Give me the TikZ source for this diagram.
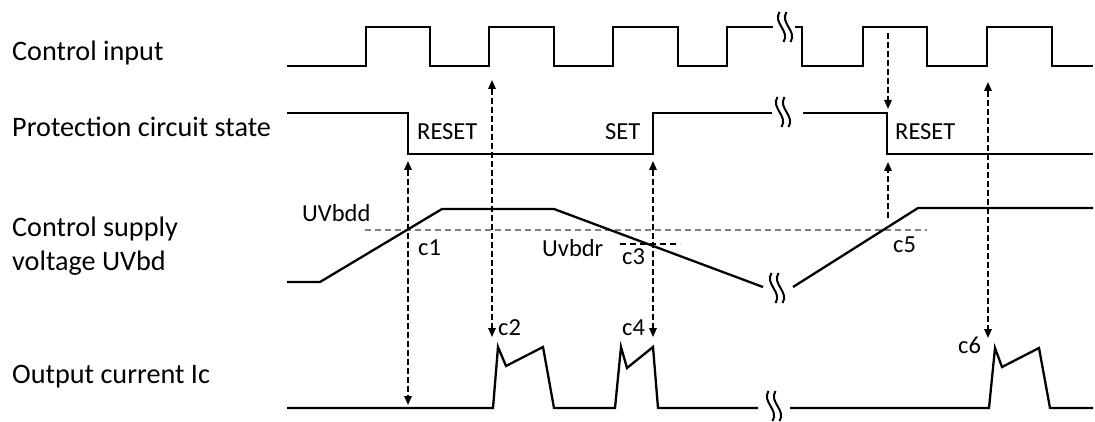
\documentclass[tikz,border=0pt]{standalone}
\usepackage{fontspec}
\setmainfont{Carlito}
\usetikzlibrary{arrows.meta}

% break mark: two wavy strokes
\newcommand{\brkmark}[2]{%
  \foreach \dx in {-3.5,3.5}{%
    \draw[brk] ({#1+\dx-2},{#2-15}) .. controls ({#1+\dx-9},{#2-4}) and ({#1+\dx+9},{#2+4}) .. ({#1+\dx+2},{#2+15});}}

\begin{document}
\begin{tikzpicture}[
    x=1pt, y=-1pt,
    wave/.style={line width=2.3pt, line join=miter},
    signame/.style={font=\fontsize{28.2}{34}\selectfont, anchor=base west, inner sep=0pt, align=left},
    tag/.style={font=\fontsize{24.5}{29}\selectfont, anchor=base west, inner sep=0pt},
    link/.style={dash pattern=on 6pt off 3pt, line width=1.6pt,
                 {Triangle[width=7.5pt,length=9pt]}-{Triangle[width=7.5pt,length=9pt]}},
    onelink/.style={dash pattern=on 6pt off 3pt, line width=1.6pt, -{Triangle[width=7.5pt,length=9pt]}},
    thresh/.style={dash pattern=on 6pt off 4pt, line width=1.5pt},
    brk/.style={line width=2pt}
]
    \useasboundingbox (0,0) rectangle (1095,422);

    % Signal names
    \node[signame] (nin)   at (12,61)  {Control input};
    \node[signame] (nprot) at (12,137) {Protection circuit state};
    \node[signame] (nsup)  at (12,270) {Control supply\\voltage UVbd};
    \node[signame] (nout)  at (12,383) {Output current Ic};

    % Control input
    \draw[wave] (287,66) -- (366,66) -- (366,27) -- (430,27) -- (430,66) -- (489,66) -- (489,27)
        -- (554,27) -- (554,66) -- (613,66) -- (613,27) -- (678,27) -- (678,66) -- (727,66)
        -- (727,27) -- (773,27);
    \draw[wave] (795,27) -- (802,27) -- (802,66) -- (863,66) -- (863,27) -- (927,27) -- (927,66)
        -- (987,66) -- (987,27) -- (1052,27) -- (1052,66) -- (1093,66);
    \brkmark{785}{27}

    % Protection circuit state
    \draw[wave] (287,113) -- (408,113) -- (408,154) -- (653,154) -- (653,113) -- (772,113);
    \draw[wave] (803,113) -- (887,113) -- (887,154) -- (1093,154);
    \brkmark{783}{112}
    \node[tag] (lres1) at (417,140) {RESET};
    \node[tag] (lset)  at (605,140) {SET};
    \node[tag] (lres2) at (895,140) {RESET};

    % Control supply voltage
    \draw[thresh, gray] (365,230) -- (927,230);
    \draw[thresh] (620,244) -- (680,244);
    \draw[wave] (287,282) -- (320,282) -- (442,209) -- (554,209) -- (763,287);
    \draw[wave] (793,287) -- (918,208) -- (1093,208);
    \brkmark{777}{288}
    \node[tag] (luvbdd) at (302,222) {UVbdd};
    \node[tag] (luvbdr) at (542,257) {Uvbdr};
    \node[tag] (lc1) at (418,255) {c1};
    \node[tag] (lc3) at (622,265) {c3};
    \node[tag] (lc5) at (893,252) {c5};

    % Output current
    \draw[wave] (287,408) -- (493,408) -- (498,347) -- (506,366) -- (543,347) -- (554,408)
        -- (615,408) -- (621,347) -- (627,368) -- (653,347) -- (658,408) -- (758,408);
    \draw[wave] (790,408) -- (989,408) -- (995,348) -- (1002,367) -- (1039,348) -- (1050,408)
        -- (1093,408);
    \brkmark{774}{406}
    \node[tag] (lc2) at (498,335) {c2};
    \node[tag] (lc4) at (622,335) {c4};
    \node[tag] (lc6) at (958,353) {c6};

    % Cause and effect
    \coordinate (a1t) at (408,161);  \coordinate (a1b) at (408,405);
    \coordinate (a2t) at (492,80);   \coordinate (a2b) at (492,337);
    \coordinate (a3t) at (653,161);  \coordinate (a3b) at (653,337);
    \coordinate (a4t) at (888,33);   \coordinate (a4b) at (888,109);
    \coordinate (a5t) at (888,162);  \coordinate (a5b) at (888,218);
    \coordinate (a6t) at (988,82);   \coordinate (a6b) at (988,338);
    \draw[link] (a1t) -- (a1b);
    \draw[link] (a2t) -- (a2b);
    \draw[link] (a3t) -- (a3b);
    \draw[onelink] (a4t) -- (a4b);
    \draw[onelink] (a5b) -- (a5t);
    \draw[link] (a6t) -- (a6b);
\end{tikzpicture}
\end{document}
